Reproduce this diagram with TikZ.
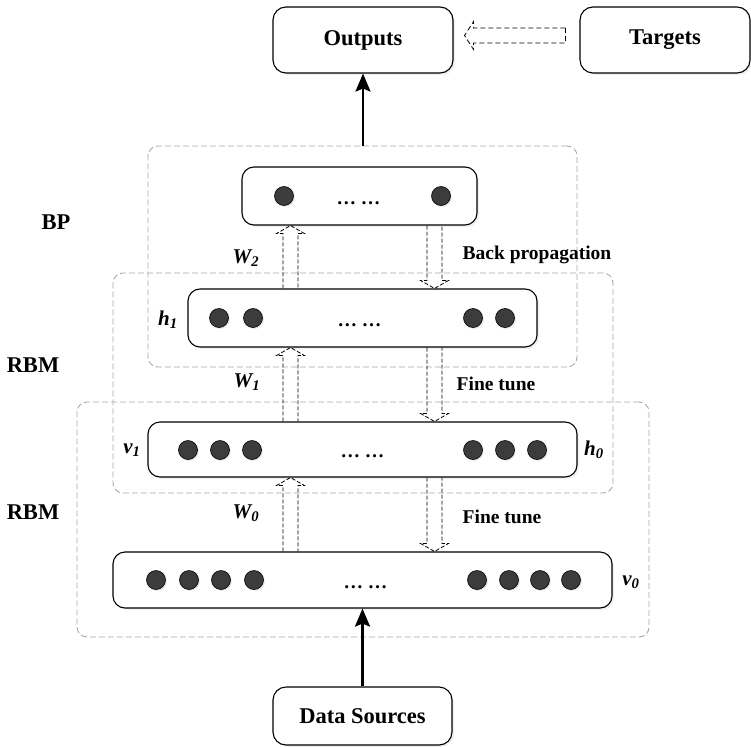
\documentclass[tikz,border=0pt]{standalone}
\usepackage{fontspec}
\setmainfont{Liberation Serif}
\usepackage{xcolor}
\usetikzlibrary{calc,arrows.meta,shadows}

\definecolor{grpgray}{HTML}{A8A8A8}
\definecolor{unitgray}{HTML}{3C3C3C}

\newcommand\uparr[2]{%
  \draw[hollowarr] ($(#1)+(-7.5,0)$) -- ($(#2)+(-7.5,8)$) -- ++(-6.5,0) -- (#2)
    -- ++(14,8) -- ++(-6.5,0) -- ($(#1)+(7.5,0)$);}
\newcommand\dnarr[2]{%
  \draw[hollowarr] ($(#1)+(-7.5,0)$) -- ($(#2)+(-7.5,-8)$) -- ++(-6.5,0) -- (#2)
    -- ++(14,-8) -- ++(-6.5,0) -- ($(#1)+(7.5,0)$);}

\begin{document}
\begin{tikzpicture}[x=1pt, y=-1pt,
  box/.style={draw, rounded corners=13pt, line width=1.1pt, fill=white,
    inner sep=0pt, font=\fontsize{22.5}{26}\selectfont\bfseries,
    drop shadow={shadow xshift=2pt, shadow yshift=-2pt, opacity=0.12}},
  layer/.style={draw, rounded corners=12pt, line width=1.1pt, fill=white,
    inner sep=0pt, drop shadow={shadow xshift=2pt, shadow yshift=-2pt, opacity=0.12}},
  unit/.style={circle, draw=black, fill=unitgray, line width=0.6pt,
    minimum size=19pt, inner sep=0pt,
    drop shadow={shadow xshift=1.5pt, shadow yshift=-1.5pt, opacity=0.15}},
  grp/.style={draw=grpgray, rounded corners=10pt, line width=0.9pt,
    dash pattern=on 6pt off 3pt, inner sep=0pt},
  ell/.style={anchor=base, font=\fontsize{19.5}{22}\selectfont\bfseries},
  lab/.style={font=\fontsize{22.5}{26}\selectfont\bfseries},
  note/.style={font=\fontsize{19.5}{22}\selectfont\bfseries},
  var/.style={font=\fontsize{21}{24}\selectfont\bfseries\itshape},
  hollowarr/.style={draw, line width=0.8pt, dash pattern=on 4pt off 2pt},
  thickarr/.style={line width=2.5pt, -{Stealth[length=18pt, width=15pt, inset=3pt]}}]

\useasboundingbox (0,0) rectangle (751,746);

% dashed groups
\node[grp, minimum width=429pt, minimum height=221pt] (bpgrp) at (362.5,256.5) {};
\node[grp, minimum width=500pt, minimum height=220pt] (rbmgrpA) at (363,383) {};
\node[grp, minimum width=572pt, minimum height=235pt] (rbmgrpB) at (363,519.5) {};

% boxes
\node[box, minimum width=180pt, minimum height=66pt] (out) at (363,40) {Outputs};
\node[box, minimum width=170pt, minimum height=66pt] (tgt) at (665,40) {Targets};
\node[box, minimum width=179pt, minimum height=58pt] (data) at (362.5,716) {Data Sources};

\node[layer, minimum width=235pt, minimum height=58pt] (bp) at (359.5,196) {};
\node[layer, minimum width=349pt, minimum height=58pt] (hid1) at (362.5,318) {};
\node[layer, minimum width=429pt, minimum height=55pt] (vis1) at (362.5,449.5) {};
\node[layer, minimum width=499pt, minimum height=56pt] (vis0) at (362.5,580) {};

% units
\foreach \x [count=\i] in {284,441}
  \node[unit] (bpu\i) at (\x,196) {};
\foreach \x [count=\i] in {219,253,473,505}
  \node[unit] (hid1u\i) at (\x,318) {};
\foreach \x [count=\i] in {188,220,252,473,505,537}
  \node[unit] (vis1u\i) at (\x,450) {};
\foreach \x [count=\i] in {156,189,221,254,477,509,540,571}
  \node[unit] (vis0u\i) at (\x,580) {};

\node[ell] (bpdots) at ($(bp.center)+(-1,8)$) {… …};
\node[ell] (hid1dots) at ($(hid1.center)+(-3,8)$) {… …};
\node[ell] (vis1dots) at ($(vis1.center)+(0,8)$) {… …};
\node[ell] (vis0dots) at ($(vis0.center)+(3,8)$) {… …};

% labels
\node[lab] (bplab) at (56,222) {BP};
\node[lab] (rbmlabA) at (33,365) {RBM};
\node[lab] (rbmlabB) at (33,512) {RBM};
\node[var] (hlab1) at (168,320) {h\textsubscript{1}};
\node[var] (vlab1) at (132,450) {v\textsubscript{1}};
\node[var] (hlab0) at (594,450) {h\textsubscript{0}};
\node[var] (vlab0) at (631,582) {v\textsubscript{0}};
\node[var] (wlab2) at (246,258) {W\textsubscript{2}};
\node[var] (wlab1) at (247,382) {W\textsubscript{1}};
\node[var] (wlab0) at (246,513) {W\textsubscript{0}};
\node[note] (bplabel) at (537,255) {Back propagation};
\node[note] (ftlabA) at (496,384) {Fine tune};
\node[note] (ftlabB) at (502,517) {Fine tune};

% arrows
\coordinate (upc) at (290.5,0);
\coordinate (dnc) at (434.5,0);
\uparr{hid1.north -| upc}{bp.south -| upc}
\dnarr{bp.south -| dnc}{hid1.north -| dnc}
\uparr{vis1.north -| upc}{hid1.south -| upc}
\dnarr{hid1.south -| dnc}{vis1.north -| dnc}
\uparr{vis0.north -| upc}{vis1.south -| upc}
\dnarr{vis1.south -| dnc}{vis0.north -| dnc}

\coordinate (tgtl) at ($(tgt.west)+(-14,-4.5)$);
\coordinate (outr) at ($(out.east)+(11,-4.5)$);
\draw[hollowarr, dash pattern=on 5pt off 3pt] ($(tgtl)+(0,-7.5)$) -- ($(outr)+(9,-7.5)$) -- ++(0,-6.5) -- (outr)
  -- ++(9,14) -- ++(0,-6.5) -- ($(tgtl)+(0,7.5)$) -- cycle;

\draw[thickarr] (bpgrp.north -| out.south) -- (out.south);
\draw[thickarr] (data.north) -- (vis0.south);
\end{tikzpicture}
\end{document}
